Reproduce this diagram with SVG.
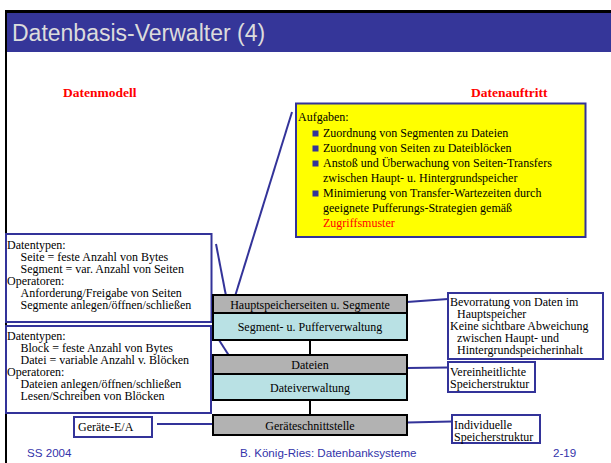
<svg xmlns="http://www.w3.org/2000/svg" width="611" height="463" viewBox="0 0 611 463">
<style>
.t{font-family:"Liberation Serif","Times New Roman",serif;font-size:12px;fill:#000}
.c{text-anchor:middle}
.box{fill:#fff;stroke:#333399;stroke-width:2}
.gray{fill:#b2b2b2;stroke:#000;stroke-width:2}
.cyan{fill:#b9e1e4;stroke:#000;stroke-width:2}
.ln{stroke:#333399;stroke-width:2;fill:none}
.bl{stroke:#000;stroke-width:2;fill:none}
.foot{font-family:"Liberation Sans",Arial,sans-serif;font-size:11.6px;fill:#3333aa}
.hd{font-family:"Liberation Serif","Times New Roman",serif;font-size:13.5px;font-weight:bold;fill:#ff0000}
</style>
<rect x="0" y="0" width="611" height="463" fill="#fff"/>
<g id="frame">
<rect x="5" y="10" width="606" height="3" fill="#000"/>
<rect x="7" y="13" width="604" height="39" fill="#353699"/>
<rect x="5" y="10" width="2" height="453" fill="#000"/>
<text x="12" y="40.5" font-family="'Liberation Sans',Arial,sans-serif" font-size="23" fill="#dcdcdc">Datenbasis-Verwalter (4)</text>
</g>
<g id="headings">
<text class="hd" x="63" y="97">Datenmodell</text>
<text class="hd" x="471" y="97">Datenauftritt</text>
</g>
<g id="connectors">
<line class="ln" x1="216" y1="244" x2="227" y2="301"/>
<line class="ln" x1="292" y1="112" x2="228" y2="319"/>
<line class="ln" x1="219" y1="340" x2="235" y2="365"/>
<line class="ln" x1="157" y1="424" x2="213" y2="424"/>
<line class="ln" x1="407" y1="302" x2="448" y2="299"/>
<line class="ln" x1="407" y1="368" x2="448" y2="367.5"/>
<line class="ln" x1="407" y1="422.5" x2="452" y2="421.5"/>
<line class="bl" x1="310" y1="340" x2="310" y2="355"/>
<line class="bl" x1="310" y1="400" x2="310" y2="415"/>
</g>
<g id="aufgaben">
<rect x="296" y="103.5" width="289.5" height="133.5" fill="#ffff00" stroke="#333399" stroke-width="2"/>
<text class="t" x="298" y="121">Aufgaben:</text>
<g fill="#333399">
<rect x="312.5" y="130.5" width="6" height="6"/>
<rect x="312.5" y="145.5" width="6" height="6"/>
<rect x="312.5" y="160.5" width="6" height="6"/>
<rect x="312.5" y="190.5" width="6" height="6"/>
</g>
<text class="t" x="323" y="137">Zuordnung von Segmenten zu Dateien</text>
<text class="t" x="323" y="152">Zuordnung von Seiten zu Dateiblöcken</text>
<text class="t" x="323" y="167">Anstoß und Überwachung von Seiten-Transfers</text>
<text class="t" x="323" y="182">zwischen Haupt- u. Hintergrundspeicher</text>
<text class="t" x="323" y="197">Minimierung von Transfer-Wartezeiten durch</text>
<text class="t" x="323" y="212">geeignete Pufferungs-Strategien gemäß</text>
<text class="t" x="323" y="227" fill="#ff0000" style="fill:#ff0000">Zugriffsmuster</text>
</g>
<g id="seiten-typen">
<rect class="box" x="6" y="234" width="205.5" height="88"/>
<text class="t" x="7" y="248.5">Datentypen:</text>
<text class="t" x="20.5" y="260.5">Seite = feste Anzahl von Bytes</text>
<text class="t" x="20.5" y="272.5">Segment = var. Anzahl von Seiten</text>
<text class="t" x="7" y="284.5">Operatoren:</text>
<text class="t" x="20.5" y="296.5">Anforderung/Freigabe von Seiten</text>
<text class="t" x="20.5" y="308.5">Segmente anlegen/öffnen/schließen</text>
</g>
<g id="block-typen">
<rect class="box" x="6" y="326" width="205" height="87"/>
<text class="t" x="7" y="340">Datentypen:</text>
<text class="t" x="20.5" y="352">Block = feste Anzahl von Bytes</text>
<text class="t" x="20.5" y="364">Datei = variable Anzahl v. Blöcken</text>
<text class="t" x="7" y="376">Operatoren:</text>
<text class="t" x="20.5" y="388">Dateien anlegen/öffnen/schließen</text>
<text class="t" x="20.5" y="400">Lesen/Schreiben von Blöcken</text>
</g>
<g id="geraete-ea">
<rect class="box" x="74" y="417" width="78" height="20"/>
<text class="t" x="78" y="431">Geräte-E/A</text>
</g>
<g id="hauptspeicherseiten">
<rect class="gray" x="213" y="295" width="194" height="18"/>
<text class="t c" x="310" y="309">Hauptspeicherseiten u. Segmente</text>
</g>
<g id="segmentverwaltung">
<rect class="cyan" x="213" y="313" width="194" height="27"/>
<text class="t c" x="310" y="331">Segment- u. Pufferverwaltung</text>
</g>
<g id="dateien">
<rect class="gray" x="213" y="355" width="194" height="19"/>
<text class="t c" x="310" y="369">Dateien</text>
</g>
<g id="dateiverwaltung">
<rect class="cyan" x="213" y="374" width="194" height="26"/>
<text class="t c" x="310" y="392">Dateiverwaltung</text>
</g>
<g id="geraeteschnittstelle">
<rect class="gray" x="213" y="415" width="194" height="20"/>
<text class="t c" x="310" y="430">Geräteschnittstelle</text>
</g>
<g id="bevorratung">
<rect class="box" x="448" y="293" width="155" height="66"/>
<text class="t" x="450" y="305.5">Bevorratung von Daten im</text>
<text class="t" x="457" y="317.5">Hauptspeicher</text>
<text class="t" x="450" y="329.5">Keine sichtbare Abweichung</text>
<text class="t" x="457" y="341.5">zwischen Haupt- und</text>
<text class="t" x="457" y="353.5">Hintergrundspeicherinhalt</text>
</g>
<g id="vereinheitlicht">
<rect class="box" x="448" y="362" width="87" height="30"/>
<text class="t" x="450" y="376">Vereinheitlichte</text>
<text class="t" x="450" y="388">Speicherstruktur</text>
</g>
<g id="individuell">
<rect class="box" x="452" y="415" width="88" height="28"/>
<text class="t" x="454" y="428.5">Individuelle</text>
<text class="t" x="454" y="440.5">Speicherstruktur</text>
</g>
<g id="footer">
<text class="foot" x="27" y="456.5">SS 2004</text>
<text class="foot" x="240" y="456.5">B. König-Ries: Datenbanksysteme</text>
<text class="foot" x="553" y="456.5">2-19</text>
</g>
</svg>
